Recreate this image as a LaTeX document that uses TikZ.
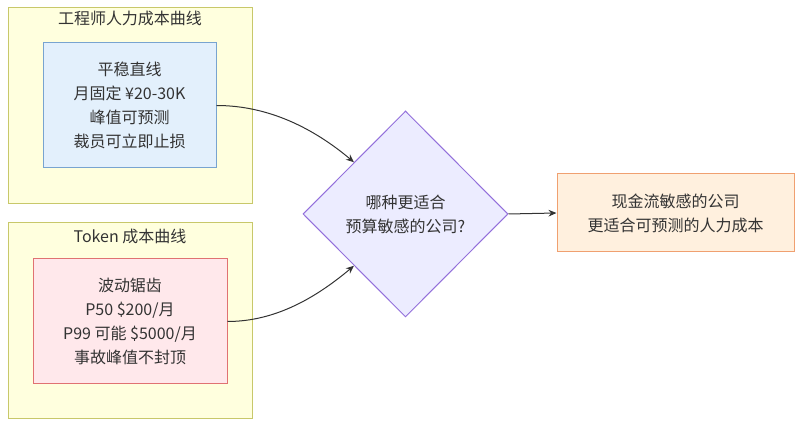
\documentclass[tikz,border=0pt]{standalone}
\usepackage{fontspec}
\setmainfont{Noto Sans CJK SC}
\usepackage{xcolor}
\usetikzlibrary{shapes.geometric, arrows.meta, positioning}

\definecolor{clfill}{HTML}{FFFFDE}
\definecolor{cldraw}{HTML}{C8C86A}
\definecolor{bluefill}{HTML}{E3F0FC}
\definecolor{bluedraw}{HTML}{78A4D0}
\definecolor{redfill}{HTML}{FFE8EB}
\definecolor{reddraw}{HTML}{E07272}
\definecolor{askfill}{HTML}{ECECFF}
\definecolor{askdraw}{HTML}{9370DB}
\definecolor{ansfill}{HTML}{FFF0DE}
\definecolor{ansdraw}{HTML}{F0A070}
\definecolor{txt}{HTML}{333333}

\begin{document}
\begin{tikzpicture}[
    x=0.75pt, y=0.75pt,
    every node/.style={text=txt, font=\fontsize{12}{18}\selectfont},
    cluster/.style={rectangle, draw=cldraw, fill=clfill, line width=0.75pt, minimum width=183pt, minimum height=147pt, inner sep=0pt},
    ctitle/.style={inner sep=0pt},
    block/.style={rectangle, draw, line width=0.75pt, align=center, inner sep=0pt},
    decision/.style={diamond, draw=askdraw, fill=askfill, line width=0.75pt, align=center, inner sep=0pt, minimum width=153.75pt, minimum height=154.5pt},
    arrow/.style={-{Stealth[length=6pt, width=5pt]}, draw=txt, line width=0.75pt},
]
\useasboundingbox (0,0) rectangle (801,428);

% Clusters
\node[cluster] (engcurve) at (130,322) {};
\node[ctitle] at (130,410) {工程师人力成本曲线};
\node[cluster] (tokcurve) at (130,107) {};
\node[ctitle] at (130,192) {Token 成本曲线};

% Nodes
\node[block, fill=bluefill, draw=bluedraw, minimum width=129.75pt, minimum height=93.75pt] (flat) at (129.5,322.5) {平稳直线\\月固定 ¥20-30K\\峰值可预测\\裁员可立即止损};
\node[block, fill=redfill, draw=reddraw, minimum width=145.5pt, minimum height=93.75pt] (saw) at (130,106.5) {波动锯齿\\P50 \$200/月\\P99 可能 \$5000/月\\事故峰值不封顶};
\node[decision] (ask) at (405.5,214) {哪种更适合\\预算敏感的公司?};
\node[block, fill=ansfill, draw=ansdraw, minimum width=177.75pt, minimum height=58.5pt] (answer) at (675.5,215) {现金流敏感的公司\\更适合可预测的人力成本};

% Edges
\draw[arrow] (flat.east) to[out=0, in=140, looseness=0.9] (ask.north west);
\draw[arrow] (saw.east) to[out=0, in=-140, looseness=0.9] (ask.south west);
\draw[arrow] (ask.east) -- (answer.west);

\end{tikzpicture}
\end{document}
